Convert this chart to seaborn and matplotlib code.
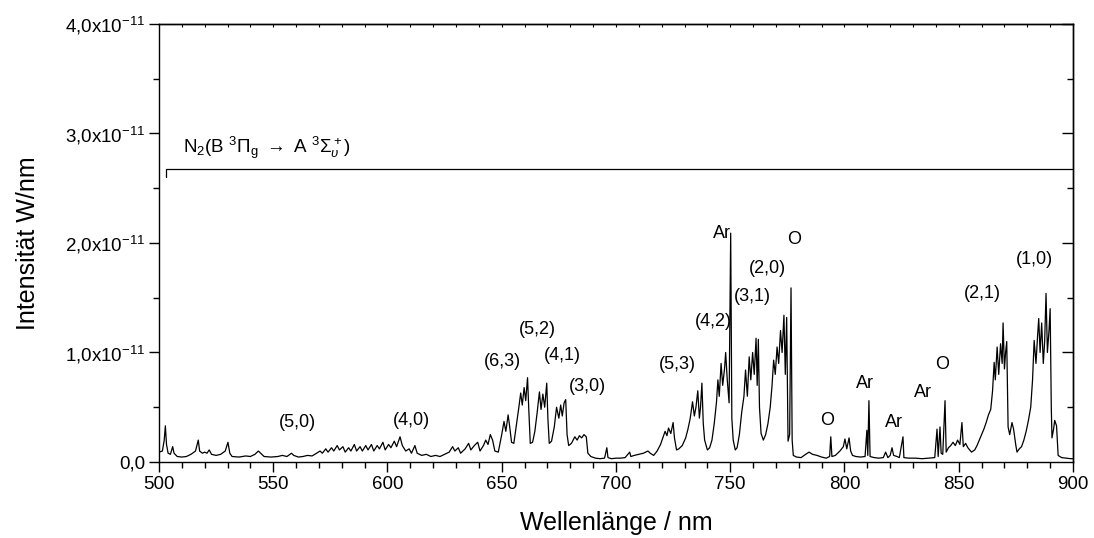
import matplotlib
matplotlib.use("Agg")
import numpy as np
import pandas as pd
import matplotlib.pyplot as plt
import seaborn as sns
from matplotlib.ticker import MultipleLocator, FixedLocator, FuncFormatter

# Emission spectrum of a N2/Ar/O discharge, intensity in units of 1e-12 W/nm
wl_a = [500.0, 501.5, 502.3, 502.8, 503.3, 504.0, 505.0, 506.0, 506.6, 508, 510, 512, 514, 516,
        517.2, 517.8, 519, 520, 521, 522, 523, 525, 527, 529, 530.2, 531, 532, 535, 538, 540,
        542, 543.5, 544.5, 546, 549, 552, 554, 556, 558, 559, 561, 563, 565, 567, 569, 570.5,
        571.5, 573, 574, 575.5, 576.5, 578, 579, 580.5, 581.5, 583, 584, 585.5, 586.5, 588,
        589, 590.5, 591.5, 593, 594, 595.5, 596.5, 598, 599]
int_a = [0.9, 1.0, 2.0, 3.3, 1.6, 0.8, 0.7, 1.4, 0.8, 0.5, 0.45, 0.5, 0.7, 1.0,
         2.0, 1.0, 0.8, 0.9, 0.8, 1.1, 0.7, 0.6, 0.7, 1.0, 1.8, 0.8, 0.5, 0.45, 0.55, 0.5,
         0.7, 1.0, 0.8, 0.5, 0.45, 0.5, 0.6, 0.5, 0.8, 0.6, 0.45, 0.5, 0.6, 0.55, 0.8, 1.0,
         0.8, 1.2, 0.9, 1.3, 1.0, 1.5, 1.1, 1.4, 0.9, 1.3, 1.0, 1.6, 1.0, 1.4,
         1.0, 1.5, 1.1, 1.6, 1.0, 1.5, 1.2, 1.8, 1.1]

wl_b = [600.5, 601.5, 603, 604, 605.5, 606.5, 608, 609.5, 610.5, 612, 613, 615, 617, 619, 621,
        623, 625, 627, 628.5, 629.5, 631, 632, 634, 635.5, 636.5, 638, 639.5, 640.5, 642, 643,
        644, 645, 646, 647, 648.5, 650, 651, 651.8, 652.8, 653.5, 654.3, 655.3, 656.5, 657.5,
        658.3, 659, 659.8, 660.5, 661.3, 661.8, 662.5, 663.5, 664.5, 665.5, 666.5, 667.2, 668,
        668.8, 669.7, 670.2, 670.8, 671.8, 673, 674, 675, 675.8, 676.5, 677.3, 678, 678.6,
        679.3, 680.5, 682, 683, 684, 685, 686, 687, 687.7, 689, 691, 693, 695, 696, 696.5, 698]
int_b = [1.6, 1.3, 1.9, 1.4, 2.3, 1.5, 1.0, 1.2, 0.8, 1.5, 0.8, 0.6, 0.7, 0.5, 0.6,
         0.5, 0.7, 0.9, 1.4, 1.0, 1.3, 0.8, 1.2, 1.7, 1.1, 1.5, 1.8, 1.0, 1.5, 2.0,
         1.6, 2.5, 2.0, 1.0, 0.9, 2.5, 3.7, 2.8, 4.3, 3.2, 1.8, 1.7, 3.5, 5.0,
         6.3, 5.2, 6.8, 5.6, 7.7, 5.0, 1.7, 1.8, 2.8, 4.5, 6.4, 4.8, 6.2,
         5.0, 7.2, 4.0, 1.7, 1.9, 3.2, 5.0, 4.0, 5.2, 4.2, 5.4, 5.7, 2.5,
         1.5, 1.7, 2.3, 2.0, 2.4, 2.2, 2.5, 2.3, 0.8, 0.5, 0.35, 0.3, 0.35, 1.3, 0.4, 0.3]

wl_c = [700, 702, 704, 706, 706.5, 708, 710, 712, 714, 715, 716.5, 718, 719.5, 720.5, 721.5,
        722.3, 723, 724, 725, 725.6, 726.5, 727.5, 729, 730.5, 731.5, 732.5, 733.5, 734.3, 735,
        735.8, 736.5, 737, 737.6, 738.2, 738.8, 740, 741, 742, 743, 744, 744.6, 745.2, 746,
        746.7, 747.5, 748, 748.7, 749.5, 750.2, 750.7, 751.3, 752.2, 753, 754, 755, 756, 756.7,
        757.5, 758.3, 759, 759.8, 760.5, 761.3, 761.8, 762.3, 762.8, 763.5, 764.5, 765.5, 766.5,
        767.5, 768.3, 769, 769.7, 770.5, 771.2, 772, 772.7, 773.5, 774.1, 774.7, 775.3, 776,
        776.6, 777.1, 777.6, 779, 781, 783, 784.5, 786, 788, 790, 792, 793.5, 794, 794.5, 796,
        798, 799.5]
int_c = [0.35, 0.35, 0.4, 0.9, 0.5, 0.6, 0.7, 0.8, 1.0, 0.8, 0.6, 1.0, 1.6, 2.2, 2.8,
         2.4, 3.1, 2.6, 3.6, 2.2, 1.1, 1.2, 1.5, 2.2, 3.0, 4.0, 5.5, 4.2, 5.0,
         6.5, 4.0, 5.0, 7.2, 3.5, 2.0, 1.1, 1.3, 2.0, 3.5, 5.5, 7.5, 6.0, 9.0,
         7.0, 8.5, 10.0, 7.5, 5.4, 20.9, 4.0, 2.0, 1.1, 1.3, 2.5, 4.5, 6.0, 8.4,
         6.0, 9.6, 7.5, 10.0, 8.0, 11.3, 7.0, 11.2, 5.0, 2.6, 2.0, 2.5, 3.5,
         5.0, 7.0, 9.3, 8.0, 10.5, 9.0, 12.0, 10.0, 13.4, 8.0, 13.2, 1.9, 2.5,
         15.9, 2.0, 0.6, 0.45, 0.4, 0.7, 0.9, 0.7, 0.6, 0.45, 0.35, 0.5, 2.3, 0.5, 0.6,
         1.0, 1.4]

wl_d = [800.2, 801, 802, 802.7, 803.5, 805, 807, 809, 809.8, 810.2, 810.7, 811.2, 813, 815,
        817, 818, 819, 820, 820.8, 821.5, 823, 824, 825.6, 826, 828, 831, 834, 837, 839.5,
        840.5, 841, 841.8, 842.3, 843, 844, 844.5, 845.5, 846.5, 847.5, 848.5, 849.5, 850.5,
        851.4, 852, 853, 854, 855.6, 857, 858, 859, 860, 861, 862, 863, 864, 864.8, 865.5,
        866, 866.8, 867.5, 868.3, 869, 869.4, 870, 870.5, 871, 871.6, 872.3, 873.3, 874, 875,
        875.5, 876.5, 877.5, 878.5, 879.5, 880.5, 881.5, 882.3, 883, 883.8, 884.5, 885, 885.6,
        886.3, 887, 887.6, 888.2, 888.8, 889.5, 890, 890.5, 890.8, 891.5, 892, 892.8, 893.5,
        895, 897, 899, 900]
int_d = [2.1, 1.2, 2.2, 1.0, 0.6, 0.5, 0.45, 0.5, 2.9, 0.6, 5.6, 0.5, 0.4, 0.35,
         0.4, 0.9, 0.4, 0.6, 1.3, 0.6, 0.5, 0.4, 2.3, 0.4, 0.35, 0.35, 0.3, 0.35, 0.4,
         3.0, 0.5, 3.2, 0.8, 0.7, 5.6, 0.9, 1.3, 1.5, 1.8, 1.5, 2.0, 1.6,
         3.6, 1.4, 1.7, 1.3, 0.9, 1.1, 1.5, 2.0, 2.5, 3.0, 3.6, 4.3, 4.8, 6.5, 9.1,
         7.5, 10.5, 8.0, 10.8, 9.0, 12.7, 8.5, 10.0, 11.0, 3.2, 2.5, 3.6, 3.0, 1.5,
         0.9, 1.2, 1.4, 2.0, 2.8, 3.8, 5.0, 7.5, 11.1, 9.0, 11.5, 13.1, 10.0,
         12.7, 9.0, 11.0, 15.4, 10.0, 12.0, 14.0, 5.0, 2.2, 3.0, 3.8, 3.3, 0.6,
         0.4, 0.35, 0.3, 0.3]

# Band and line labels: text, wavelength (nm), height (1e-12 W/nm)
band_labels = ["(5,0)", "(4,0)", "(6,3)", "(5,2)", "(4,1)", "(3,0)", "(5,3)", "(4,2)",
               "(3,1)", "(2,0)", "(2,1)", "(1,0)"]
band_x = [560.4, 610.7, 650.5, 665.4, 676.4, 687.7, 727.0, 742.5, 759.5, 766.5, 860.2, 883.0]
band_y = [3.65, 3.8, 9.2, 12.1, 9.7, 6.9, 8.9, 12.8, 15.1, 17.7, 15.4, 18.5]

line_labels = ["Ar", "O", "O", "Ar", "Ar", "Ar", "O"]
line_x = [746.4, 777.9, 792.3, 809.0, 821.7, 834.4, 842.7]
line_y = [20.9, 20.3, 3.8, 7.2, 3.6, 6.3, 8.9]

x_ticks = [500, 550, 600, 650, 700, 750, 800, 850, 900]
y_ticks = [0.0, 1e-11, 2e-11, 3e-11, 4e-11]

band_system = r"N$_2$(B $^3\Pi_\mathrm{g}$ $\rightarrow$ A $^3\Sigma^+_\upsilon$)"
band_start = 503.0
bracket_low = 26.0
bracket_level = 26.8

UNIT = 1e-12

sns.set_theme(style="ticks")
plt.rcParams["font.family"] = ["Liberation Sans", "DejaVu Sans"]
plt.rcParams["mathtext.fontset"] = "custom"
plt.rcParams["mathtext.rm"] = "Liberation Sans"
plt.rcParams["mathtext.it"] = "Liberation Sans:italic"
plt.rcParams["mathtext.bf"] = "Liberation Sans:bold"
plt.rcParams["axes.linewidth"] = 1.0
plt.rcParams["text.color"] = "black"
plt.rcParams["axes.labelcolor"] = "black"
plt.rcParams["axes.edgecolor"] = "black"
plt.rcParams["xtick.color"] = "black"
plt.rcParams["ytick.color"] = "black"

df = pd.DataFrame({
    "Wellenlänge": np.concatenate([wl_a, wl_b, wl_c, wl_d]),
    "Intensität": np.concatenate([int_a, int_b, int_c, int_d]) * UNIT,
})

fig = plt.figure(figsize=(10.94, 5.38), dpi=100)
ax = fig.add_axes([0.1453, 0.1413, 0.8355, 0.8141])

sns.lineplot(data=df, x="Wellenlänge", y="Intensität", ax=ax, color="black",
             linewidth=0.9, estimator=None, sort=False)

ax.set_xlim(500, 900)
ax.set_ylim(0, 4e-11)

ax.xaxis.set_major_locator(FixedLocator(x_ticks))
ax.xaxis.set_minor_locator(MultipleLocator(10))
ax.yaxis.set_major_locator(FixedLocator(y_ticks))
ax.yaxis.set_minor_locator(MultipleLocator(0.5e-11))


def y_fmt(v, pos):
    if abs(v) < 1e-15:
        return "0,0"
    m = f"{v / 1e-11:.1f}".replace(".", ",")
    return m + r"x10$^{-11}$"


ax.yaxis.set_major_formatter(FuncFormatter(y_fmt))
ax.tick_params(axis="both", which="major", direction="out", length=7, width=1,
               labelsize=13.5, colors="black", pad=3)
ax.tick_params(axis="both", which="minor", direction="out", length=4.5, width=1)

# Inward ticks on the top and right frame
top = ax.secondary_xaxis("top")
top.xaxis.set_major_locator(FixedLocator(list(range(510, 900, 10))))
top.tick_params(direction="in", length=2.5, width=0.8, labeltop=False)
right = ax.secondary_yaxis("right")
right.yaxis.set_major_locator(FixedLocator(y_ticks[1:]))
right.yaxis.set_minor_locator(FixedLocator([0.5e-11, 1.5e-11, 2.5e-11, 3.5e-11]))
right.tick_params(which="major", direction="in", length=8, width=1, labelright=False)
right.tick_params(which="minor", direction="in", length=4.5, width=1)

ax.set_xlabel("Wellenlänge / nm", fontsize=18, labelpad=13)
ax.set_ylabel("Intensität W/nm", fontsize=18, labelpad=18)

for t, x, y in zip(band_labels, band_x, band_y):
    ax.text(x, y * UNIT, t, ha="center", va="center", fontsize=13)
for t, x, y in zip(line_labels, line_x, line_y):
    ax.text(x, y * UNIT, t, ha="center", va="center", fontsize=13)

ax.plot([band_start, band_start, 900], [bracket_low * UNIT, bracket_level * UNIT, bracket_level * UNIT],
        color="black", linewidth=0.9)
ax.text(547, 28.7 * UNIT, band_system, ha="center", va="center", fontsize=13.5)

fig.savefig("out.png", dpi=100)
